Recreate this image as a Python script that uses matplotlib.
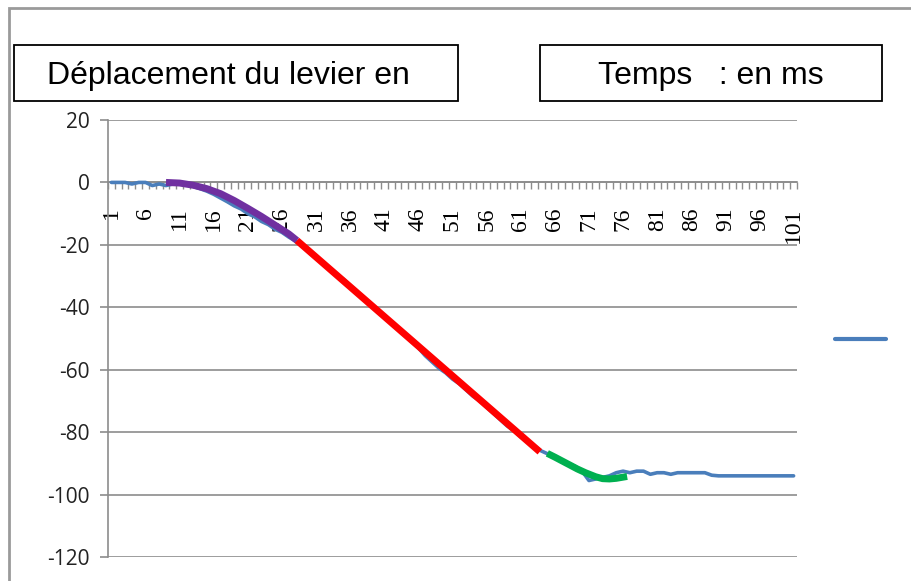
# Déplacement du levier en fonction du temps (ms), avec ajustements de phases
import matplotlib.pyplot as plt
from matplotlib.patches import Rectangle

# mesures (une valeur par pas de temps, 1..101)
temps = list(range(1, 102))
deplacement = [
    0, 0, 0, -0.5, 0, 0, -1, -0.5, -1, -0.5,
    -0.5, -0.8, -1.3, -2, -2.8, -3.8, -5, -6.2, -7.5, -8.5,
    -10, -11, -12.5, -13.5, -15, -16, -17.5, -18.8, -20.5, -22.5,
    -24.3, -26, -28, -29.5, -31, -33, -35, -37, -39, -41,
    -43, -45, -47, -49, -51, -53, -55.5, -57.5, -59.5, -61,
    -63, -64.5, -66.5, -68.5, -70, -72, -74, -76, -78, -79.5,
    -81.5, -83, -84.5, -86, -87, -88, -89.5, -90, -91, -92.5,
    -95.5, -95, -94.5, -94, -93, -92.5, -93, -92.5, -92.5, -93.5,
    -93, -93, -93.5, -93, -93, -93, -93, -93, -93.8, -94,
    -94, -94, -94, -94, -94, -94, -94, -94, -94, -94, -94,
]

# phase 1 : demarrage (courbe violette)
t_debut = [9, 11, 13, 15, 17, 19, 21, 23, 25, 27, 28.2]
y_debut = [0, -0.2, -0.9, -2, -3.6, -5.8, -8.3, -10.9, -13.7, -16.5, -18.6]

# phase 2 : vitesse constante (droite rouge)
t_lin = [28.2, 63.8]
y_lin = [-18.6, -86.3]

# phase 3 : arret (courbe verte)
t_fin = [64.9, 66, 68, 69.3, 70.5, 72, 73, 74, 75, 76.6]
y_fin = [-86.8, -88.0, -90.3, -91.8, -93.0, -94.3, -94.9, -95.0, -94.8, -94.2]

yticks = [20, 0, -20, -40, -60, -80, -100, -120]
xlabels = list(range(1, 102, 5))

fig = plt.figure(figsize=(9.12, 5.81), dpi=100)
ax = fig.add_axes([108 / 912, 1 - 557 / 581, 689 / 912, 437 / 581])

# courbe mesuree puis les trois ajustements par dessus
ax.plot(temps, deplacement, color="#4A7EBB", lw=2.6, solid_capstyle="round", zorder=3)
ax.plot(t_debut, y_debut, color="#7030A0", lw=5, solid_capstyle="butt", zorder=4)
ax.plot(t_lin, y_lin, color="#FF0000", lw=5, solid_capstyle="butt", zorder=4)
ax.plot(t_fin, y_fin, color="#00B050", lw=5, solid_capstyle="butt", zorder=4)

ax.set_xlim(0.5, 101.5)
ax.set_ylim(-120, 20)

gris = "#8c8c8c"
for s in ["top", "right"]:
    ax.spines[s].set_visible(False)
ax.spines["bottom"].set_position(("data", 0))
ax.spines["bottom"].set_color(gris)
ax.spines["left"].set_color(gris)
ax.spines["bottom"].set_linewidth(1.2)
ax.spines["left"].set_linewidth(1.2)

ax.set_yticks(yticks)
ax.set_yticklabels([str(v) for v in yticks], fontsize=15, family="Open Sans", color="#222222")
ax.tick_params(axis="y", length=6, color=gris, width=1.2, pad=7)
ax.yaxis.grid(True, color=gris, lw=1.2)
ax.set_axisbelow(True)

ax.set_xticks(xlabels)
ax.set_xticklabels([str(v) for v in xlabels], rotation=90, fontsize=17,
                   family="Liberation Serif", va="top")
ax.set_xticks([k + 0.5 for k in range(0, 102)], minor=True)
ax.tick_params(axis="x", which="major", length=0, pad=18)
ax.tick_params(axis="x", which="minor", length=5, color=gris, width=1, direction="out")

# cadre exterieur
fig.patches.append(Rectangle((9 / 912, -0.1), 1.1, 1 - 8 / 581 + 0.1,
                             transform=fig.transFigure, fill=False,
                             edgecolor="#9a9a9a", lw=2))

# zones de titre
fig.patches.append(Rectangle((14 / 912, 1 - 101 / 581), 444 / 912, 56 / 581,
                             transform=fig.transFigure, fill=False,
                             edgecolor="black", lw=1.3))
fig.patches.append(Rectangle((540 / 912, 1 - 101 / 581), 342 / 912, 56 / 581,
                             transform=fig.transFigure, fill=False,
                             edgecolor="black", lw=1.3))
fig.text(47 / 912, 1 - 76 / 581, "Déplacement du levier en", fontsize=23,
         family="Liberation Sans", va="center", ha="left")
fig.text(711 / 912, 1 - 76 / 581, "Temps   : en ms", fontsize=23,
         family="Liberation Sans", va="center", ha="center")

# legende (sans texte)
fig.lines.append(plt.Line2D([835 / 912, 886 / 912], [1 - 339 / 581, 1 - 339 / 581],
                            transform=fig.transFigure, color="#4A7EBB", lw=3,
                            solid_capstyle="round"))

fig.savefig("out.png", dpi=100)
